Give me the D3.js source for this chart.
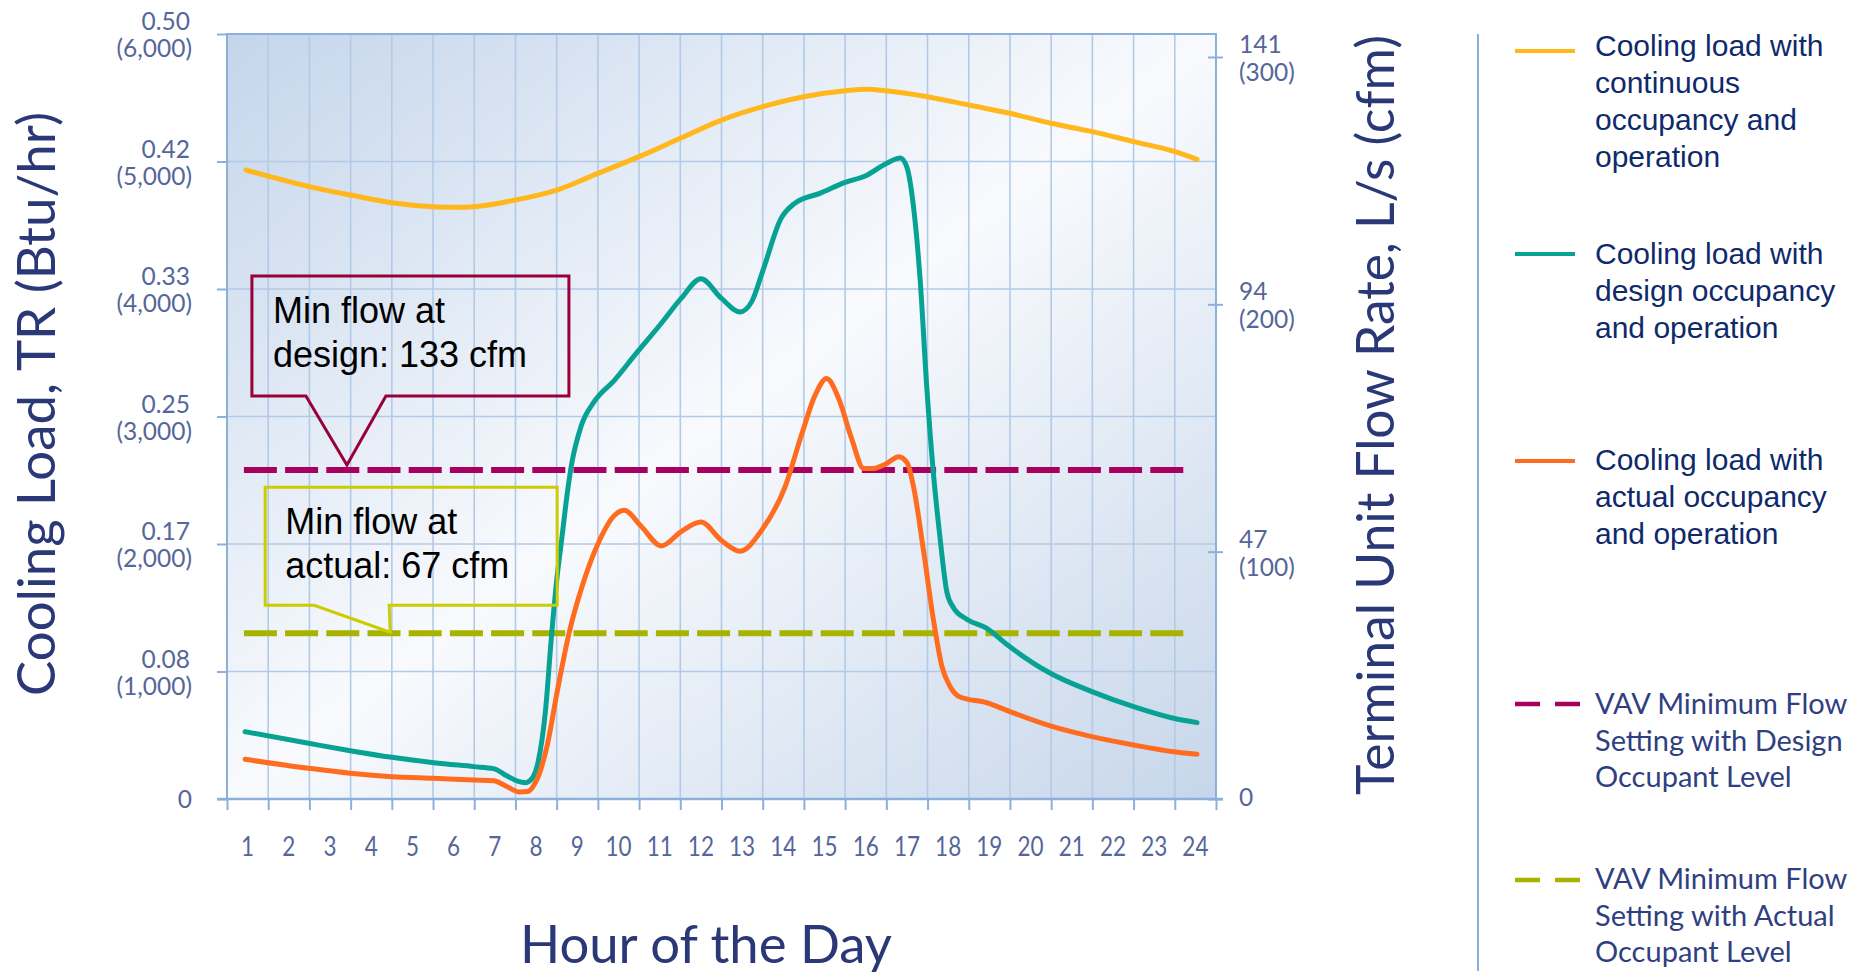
<!DOCTYPE html>
<html><head><meta charset="utf-8">
<script src="https://cdn.jsdelivr.net/npm/d3@7"></script>
<style>
body{margin:0;background:#fff;}
svg{display:block;}
</style></head>
<body>
<svg id="chart" width="1862" height="978"></svg>
<script>
// ---------- DATA ----------
const hours = d3.range(1, 25);
const loadTicks = [0, 1000, 2000, 3000, 4000, 5000, 6000];           // Btu/hr
const loadTickTR = ["0", "0.08", "0.17", "0.25", "0.33", "0.42", "0.50"];
const flowTicks = [0, 100, 200, 300];                                  // cfm
const flowTickLs = ["0", "47", "94", "141"];

const continuousHour = [0.96, 1.5, 2.5, 3.5, 4.5, 5.5, 6.0, 6.5, 7.5, 8.5, 9.5, 10.5, 11.5, 12.5, 13.5, 14.5, 15.5, 16.0, 16.5, 17.5, 18.5, 19.5, 20.5, 21.5, 22.5, 23.5, 24.04];
const continuousLoad = [4933, 4885, 4803, 4737, 4677, 4646, 4641, 4646, 4698, 4776, 4907, 5038, 5182, 5325, 5430, 5508, 5555, 5566, 5555, 5508, 5443, 5378, 5300, 5234, 5156, 5077, 5017];

const designHour = [0.94, 2.48, 3.49, 4.5, 5.52, 6.49, 6.97, 7.3, 7.55, 7.75, 7.9, 8.05, 8.23, 8.37, 8.51, 8.62, 8.75, 8.86, 9.09, 9.41, 9.9, 10.39, 11.04, 11.52, 12.0, 12.5, 12.95, 13.23, 13.5, 13.94, 14.26, 14.9, 15.5, 16.03, 16.51, 16.84, 17.0, 17.16, 17.32, 17.48, 17.64, 17.8, 17.97, 18.13, 18.45, 18.93, 19.45, 20.48, 21.49, 22.5, 23.47, 24.04];
const designLoad = [528, 437, 379, 327, 285, 254, 238, 180, 140, 128, 160, 290, 698, 1260, 1743, 2030, 2380, 2620, 2921, 3116, 3284, 3479, 3731, 3926, 4080, 3926, 3820, 3899, 4140, 4550, 4668, 4752, 4836, 4893, 4987, 5027, 4954, 4643, 4075, 3235, 2563, 2058, 1621, 1500, 1410, 1340, 1205, 986, 842, 724, 633, 599];

const actualHour = [0.94, 2.48, 3.49, 4.5, 5.52, 6.49, 6.97, 7.3, 7.6, 7.8, 7.95, 8.07, 8.27, 8.52, 8.8, 9.13, 9.5, 9.9, 10.14, 10.55, 11.04, 11.52, 12.0, 12.5, 12.95, 13.48, 14.04, 14.45, 14.78, 15.05, 15.34, 15.65, 15.95, 16.19, 16.5, 16.8, 17.0, 17.16, 17.4, 17.64, 17.85, 18.05, 18.29, 18.94, 19.5, 20.48, 21.49, 22.5, 23.47, 24.04];
const actualLoad = [311, 241, 202, 175, 162, 149, 144, 96, 55, 58, 110, 190, 420, 855, 1300, 1680, 2000, 2223, 2264, 2139, 1985, 2097, 2173, 2027, 1944, 2111, 2446, 2865, 3173, 3298, 3144, 2835, 2593, 2593, 2630, 2685, 2640, 2449, 1953, 1410, 1038, 881, 800, 755, 685, 573, 489, 424, 371, 351];

const minFlowHours = [0.91, 23.72];
const minFlowDesign = 133;   // cfm
const minFlowActual = 67;    // cfm

const legendLabels = [
  ["Cooling load with", "continuous", "occupancy and", "operation"],
  ["Cooling load with", "design occupancy", "and operation"],
  ["Cooling load with", "actual occupancy", "and operation"],
  ["VAV Minimum Flow", "Setting with Design", "Occupant Level"],
  ["VAV Minimum Flow", "Setting with Actual", "Occupant Level"]
];

// ---------- STYLE ----------
const C = {
  yellow: "#ffb71b", teal: "#07a294", orange: "#ff6c20",
  magenta: "#a8005f", olive: "#a7b300",
  axis: "#8db0db", grid: "#b3cae6",
  tick: "#56669a", title: "#2a3878", legend: "#0f2a6b", legend2: "#2f3f80",
  box1: "#99003a", box2: "#cccc00"
};
const myriad = "Lato, 'Open Sans', sans-serif";
const arial = "'Liberation Sans', Arial, sans-serif";

const svg = d3.select("#chart");
const P = {left: 227, right: 1216, top: 34, bottom: 799};

const x = d3.scaleLinear().domain([0.5, 24.5]).range([P.left, P.right]);
const yLoad = d3.scaleLinear().domain([0, 6000]).range([P.bottom, P.top]);
const yFlow = d3.scaleLinear().domain([0, 300]).range([P.bottom, 57]);

// background gradient
const defs = svg.append("defs");
const grad = defs.append("linearGradient").attr("id", "bg")
  .attr("x1", 0).attr("y1", 0).attr("x2", 1).attr("y2", 1);
grad.append("stop").attr("offset", "0%").attr("stop-color", "#c4d5eb");
grad.append("stop").attr("offset", "50%").attr("stop-color", "#f8fafd");
grad.append("stop").attr("offset", "100%").attr("stop-color", "#c6d6ea");

svg.append("rect").attr("x", P.left).attr("y", P.top)
  .attr("width", P.right - P.left).attr("height", P.bottom - P.top)
  .attr("fill", "url(#bg)");

// grid
const gridX = d3.range(0.5, 24.6, 1);
svg.append("g").selectAll("line").data(gridX.slice(1, -1)).join("line")
  .attr("x1", d => x(d)).attr("x2", d => x(d))
  .attr("y1", P.top).attr("y2", P.bottom)
  .attr("stroke", C.grid).attr("stroke-width", 1.6);
svg.append("g").selectAll("line").data(loadTicks.slice(1, -1)).join("line")
  .attr("x1", P.left).attr("x2", P.right)
  .attr("y1", d => yLoad(d)).attr("y2", d => yLoad(d))
  .attr("stroke", C.grid).attr("stroke-width", 1.6);

// frame
svg.append("rect").attr("x", P.left).attr("y", P.top)
  .attr("width", P.right - P.left).attr("height", P.bottom - P.top)
  .attr("fill", "none").attr("stroke", C.axis).attr("stroke-width", 2);

// bottom axis
const gx = svg.append("g").attr("transform", `translate(0,${P.bottom})`)
  .call(d3.axisBottom(x).tickValues(gridX).tickSize(11).tickFormat(""));
gx.select(".domain").remove();
gx.selectAll(".tick line").attr("stroke", C.axis).attr("stroke-width", 2);
svg.append("line").attr("x1", P.left - 10).attr("x2", P.right + 7)
  .attr("y1", P.bottom).attr("y2", P.bottom)
  .attr("stroke", C.axis).attr("stroke-width", 2.5);
svg.append("g").selectAll("text").data(hours).join("text")
  .attr("transform", d => `translate(${x(d)},856) scale(0.9,1.08)`)
  .attr("text-anchor", "middle")
  .attr("font-family", myriad).attr("font-size", 25).attr("fill", C.tick)
  .text(d => d);

// left axis
const gl = svg.append("g").attr("transform", `translate(${P.left},0)`)
  .call(d3.axisLeft(yLoad).tickValues(loadTicks).tickSize(10).tickFormat(""));
gl.select(".domain").remove();
gl.selectAll(".tick line").attr("stroke", C.axis).attr("stroke-width", 2);
const ll = svg.append("g").selectAll("text").data(loadTicks).join("text")
  .attr("text-anchor", "end")
  .attr("font-family", myriad).attr("font-size", 24.5).attr("fill", C.tick);
ll.each(function(d, i) {
  const t = d3.select(this);
  if (d === 0) {
    t.append("tspan").attr("x", 192).attr("y", yLoad(d) + 9).text(loadTickTR[i]);
  } else {
    t.append("tspan").attr("x", 190).attr("y", yLoad(d) - 4).text(loadTickTR[i]);
    t.append("tspan").attr("x", 192).attr("y", yLoad(d) + 23).text("(" + d3.format(",")(d) + ")");
  }
});

// right axis
const gr = svg.append("g").attr("transform", `translate(${P.right - 8},0)`)
  .call(d3.axisRight(yFlow).tickValues(flowTicks).tickSize(15).tickFormat(""));
gr.select(".domain").remove();
gr.selectAll(".tick line").attr("stroke", C.axis).attr("stroke-width", 2);
const rl = svg.append("g").selectAll("text").data(flowTicks).join("text")
  .attr("font-family", myriad).attr("font-size", 24.5).attr("fill", C.tick);
rl.each(function(d, i) {
  const t = d3.select(this);
  if (d === 0) {
    t.append("tspan").attr("x", 1239).attr("y", yFlow(d) + 7).text(flowTickLs[i]);
  } else {
    t.append("tspan").attr("x", 1239).attr("y", yFlow(d) - 4).text(flowTickLs[i]);
    t.append("tspan").attr("x", 1239).attr("y", yFlow(d) + 24).text("(" + d + ")");
  }
});

// axis titles
svg.append("text").attr("transform", "translate(55,404) rotate(-90)")
  .attr("text-anchor", "middle").attr("font-family", myriad)
  .attr("font-size", 53).attr("fill", C.title)
  .attr("textLength", 584).attr("lengthAdjust", "spacingAndGlyphs")
  .text("Cooling Load, TR (Btu/hr)");
svg.append("text").attr("transform", "translate(1394,415) rotate(-90)")
  .attr("text-anchor", "middle").attr("font-family", myriad)
  .attr("font-size", 53).attr("fill", C.title)
  .attr("textLength", 760).attr("lengthAdjust", "spacingAndGlyphs")
  .text("Terminal Unit Flow Rate, L/s (cfm)");
svg.append("text").attr("x", 706).attr("y", 963)
  .attr("text-anchor", "middle").attr("font-family", myriad)
  .attr("font-size", 52).attr("fill", C.title)
  .attr("textLength", 372).attr("lengthAdjust", "spacingAndGlyphs")
  .text("Hour of the Day");

// dashed min-flow lines
[[minFlowDesign, C.magenta], [minFlowActual, C.olive]].forEach(([v, col]) => {
  svg.append("line")
    .attr("x1", x(minFlowHours[0])).attr("x2", x(minFlowHours[1]))
    .attr("y1", yFlow(v)).attr("y2", yFlow(v))
    .attr("stroke", col).attr("stroke-width", 6)
    .attr("stroke-dasharray", "33,8.2");
});

// curves
const line = d3.line().x(d => x(d[0])).y(d => yLoad(d[1])).curve(d3.curveMonotoneX);
const series = [
  [d3.zip(continuousHour, continuousLoad), C.yellow],
  [d3.zip(designHour, designLoad), C.teal],
  [d3.zip(actualHour, actualLoad), C.orange]
];
series.forEach(([pts, col]) => {
  svg.append("path").datum(pts).attr("d", line)
    .attr("fill", "none").attr("stroke", col).attr("stroke-width", 5)
    .attr("stroke-linejoin", "round").attr("stroke-linecap", "round");
});

// callouts
function callout(tip, box, base, col, lines, textPos) {
  const [tx, ty] = tip;
  const L = tx + box[0], R = tx + box[1], T = ty + box[2], B = ty + box[3];
  const d = `M${L},${T}L${R},${T}L${R},${B}L${tx + base[1]},${B}L${tx},${ty}L${tx + base[0]},${B}L${L},${B}Z`;
  svg.append("path").attr("d", d).attr("fill", "none")
    .attr("stroke", col).attr("stroke-width", 3).attr("stroke-linejoin", "miter");
  lines.forEach((s, i) => {
    svg.append("text").attr("x", tx + textPos[0]).attr("y", ty + textPos[1] + i * 44)
      .attr("font-family", arial).attr("font-size", 36).attr("fill", "#000").text(s);
  });
}
callout([x(3.41), yFlow(minFlowDesign) - 5], [-95, 222, -189, -69], [-41, 39], C.box1,
  ["Min flow at", "design: " + minFlowDesign + " cfm"], [-74, -142]);
callout([x(4.46), yFlow(minFlowActual) - 1], [-125, 167, -145, -27], [-76, -1], C.box2,
  ["Min flow at", "actual: " + minFlowActual + " cfm"], [-105, -98]);

// legend
svg.append("line").attr("x1", 1478).attr("x2", 1478).attr("y1", 34).attr("y2", 971)
  .attr("stroke", C.axis).attr("stroke-width", 2);
const legendItems = [
  {y: 51, col: C.yellow, dash: null, font: arial, fill: C.legend, size: 30, lh: 37, base: 56},
  {y: 254, col: C.teal, dash: null, font: arial, fill: C.legend, size: 30, lh: 37, base: 264},
  {y: 461, col: C.orange, dash: null, font: arial, fill: C.legend, size: 30, lh: 37, base: 470},
  {y: 704, col: C.magenta, dash: "25,15", font: myriad, fill: C.legend2, size: 29, lh: 36.7, base: 714},
  {y: 880, col: C.olive, dash: "25,15", font: myriad, fill: C.legend2, size: 29, lh: 36.7, base: 889}
];
legendItems.forEach((it, i) => {
  svg.append("line").attr("x1", 1515).attr("x2", it.dash ? 1580 : 1575)
    .attr("y1", it.y).attr("y2", it.y)
    .attr("stroke", it.col).attr("stroke-width", it.dash ? 4.5 : 4)
    .attr("stroke-dasharray", it.dash);
  const t = svg.append("text").attr("font-family", it.font)
    .attr("font-size", it.size).attr("fill", it.fill);
  legendLabels[i].forEach((s, j) => {
    t.append("tspan").attr("x", 1595).attr("y", it.base + j * it.lh).text(s);
  });
});
</script>
</body></html>
